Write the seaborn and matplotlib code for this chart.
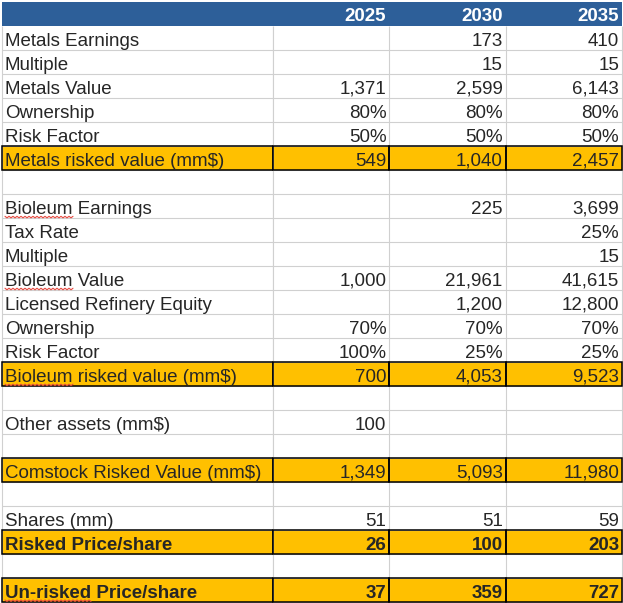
import numpy as np
import pandas as pd
import matplotlib.pyplot as plt
import seaborn as sns
from matplotlib.colors import ListedColormap
from matplotlib.patches import Rectangle
from matplotlib.lines import Line2D
from matplotlib.transforms import IdentityTransform

years = ['2025', '2030', '2035']

labels = ['Metals Earnings', 'Multiple', 'Metals Value', 'Ownership', 'Risk Factor',
          'Metals risked value (mm$)', '',
          'Bioleum Earnings', 'Tax Rate', 'Multiple', 'Bioleum Value',
          'Licensed Refinery Equity', 'Ownership', 'Risk Factor',
          'Bioleum risked value (mm$)', '',
          'Other assets (mm$)', '',
          'Comstock Risked Value (mm$)', '',
          'Shares (mm)', 'Risked Price/share', '',
          'Un-risked Price/share']

metals_earnings = [None, 173, 410]
metals_multiple = [None, 15, 15]
metals_value = [1371, 2599, 6143]
metals_ownership = [0.80, 0.80, 0.80]
metals_risk = [0.50, 0.50, 0.50]
metals_risked = [549, 1040, 2457]
bioleum_earnings = [None, 225, 3699]
tax_rate = [None, None, 0.25]
bioleum_multiple = [None, None, 15]
bioleum_value = [1000, 21961, 41615]
refinery_equity = [None, 1200, 12800]
bioleum_ownership = [0.70, 0.70, 0.70]
bioleum_risk = [1.00, 0.25, 0.25]
bioleum_risked = [700, 4053, 9523]
other_assets = [100, None, None]
comstock_risked = [1349, 5093, 11980]
shares = [51, 51, 59]
risked_price = [26, 100, 203]
unrisked_price = [37, 359, 727]
blank = [None, None, None]

values = [metals_earnings, metals_multiple, metals_value, metals_ownership, metals_risk,
          metals_risked, blank,
          bioleum_earnings, tax_rate, bioleum_multiple, bioleum_value,
          refinery_equity, bioleum_ownership, bioleum_risk,
          bioleum_risked, blank,
          other_assets, blank,
          comstock_risked, blank,
          shares, risked_price, blank,
          unrisked_price]

pct_rows = {'Ownership', 'Risk Factor', 'Tax Rate'}
highlight_rows = {'Metals risked value (mm$)', 'Bioleum risked value (mm$)',
                  'Comstock Risked Value (mm$)', 'Risked Price/share',
                  'Un-risked Price/share'}
bold_rows = {'Risked Price/share', 'Un-risked Price/share'}
flagged_words = ['Bioleum', 'Un-risked']   # spell-check squiggles

# --- styling ---
sns.set_style('white')
plt.rcParams['font.family'] = ['Liberation Sans', 'DejaVu Sans']
FS = 13.5
BLUE = '#2D5F99'
GOLD = '#FFC000'
GRID = '#D0D0D0'

df = pd.DataFrame(values, index=labels, columns=years)
n_rows = len(labels) + 1  # + header

# cell colour codes: 0 white, 1 header blue, 2 highlight gold
body_code = [2 if lab in highlight_rows else 0 for lab in labels]
codes_num = np.array([[1, 1, 1]] + [[c, c, c] for c in body_code])
codes_lab = np.array([[1]] + [[c] for c in body_code])
cmap = ListedColormap(['white', BLUE, GOLD])

W, H = 623, 603
fig = plt.figure(figsize=(W / 100, H / 100), dpi=100)
grid_top, grid_bot = 2, 601.5
ax_lab = fig.add_axes([2 / W, (H - grid_bot) / H, 271 / W, (grid_bot - grid_top) / H])
ax_num = fig.add_axes([273 / W, (H - grid_bot) / H, 349 / W, (grid_bot - grid_top) / H])

for ax, codes in [(ax_lab, codes_lab), (ax_num, codes_num)]:
    sns.heatmap(codes, cmap=cmap, vmin=-0.5, vmax=2.5, cbar=False, linewidths=0,
                xticklabels=False, yticklabels=False, ax=ax)
    for sp in ax.spines.values():
        sp.set_visible(False)
    ncol = codes.shape[1]
    ax.hlines(np.arange(2, n_rows + 1), 0, ncol, colors=GRID, lw=0.8, clip_on=False, zorder=2)
    ax.vlines(np.arange(0, ncol + 1), 1, n_rows, colors=GRID, lw=0.8, clip_on=False, zorder=2)
    for i, lab in enumerate(labels):
        if lab in highlight_rows:
            for j in range(ncol):
                ax.add_patch(Rectangle((j, i + 1), 1, 1, fill=False, ec='black',
                                       lw=1.1, clip_on=False, zorder=3))

# header
for j, yr in enumerate(years):
    ax_num.annotate(yr, xy=(j + 1, 1), xytext=(-3, 5), textcoords='offset pixels',
                    ha='right', va='baseline', color='white', fontsize=FS,
                    fontweight='bold', zorder=4)

# body text
for i, lab in enumerate(labels):
    w = 'bold' if lab in bold_rows else 'normal'
    ax_lab.annotate(lab, xy=(0, i + 2), xytext=(3, 4), textcoords='offset pixels',
                    ha='left', va='baseline', fontsize=FS, fontweight=w, zorder=4)
    for j, yr in enumerate(years):
        v = df.iloc[i][yr]
        if v is None or pd.isna(v):
            continue
        s = f'{v:.0%}' if lab in pct_rows else f'{v:,.0f}'
        ax_num.annotate(s, xy=(j + 1, i + 2), xytext=(-3, 4), textcoords='offset pixels',
                        ha='right', va='baseline', fontsize=FS, fontweight=w, zorder=4)

# red spell-check squiggles under flagged words
fig.canvas.draw()
renderer = fig.canvas.get_renderer()
for i, lab in enumerate(labels):
    for word in flagged_words:
        if lab.startswith(word):
            w = 'bold' if lab in bold_rows else 'normal'
            t = ax_lab.annotate(word, xy=(0, i + 2), xytext=(3, 4),
                                textcoords='offset pixels', ha='left', va='baseline',
                                fontsize=FS, fontweight=w)
            bb = t.get_window_extent(renderer)
            t.remove()
            base = ax_lab.transData.transform((0, i + 2))[1] + 4
            xs = np.arange(bb.x0, bb.x1 + 1, 2.0)
            ys = base - 2.5 - 1.5 * (np.arange(len(xs)) % 2)
            fig.add_artist(Line2D(xs, ys, transform=IdentityTransform(),
                                  color='#E5483F', lw=0.8, zorder=5))

fig.savefig('out.png', dpi=100)
